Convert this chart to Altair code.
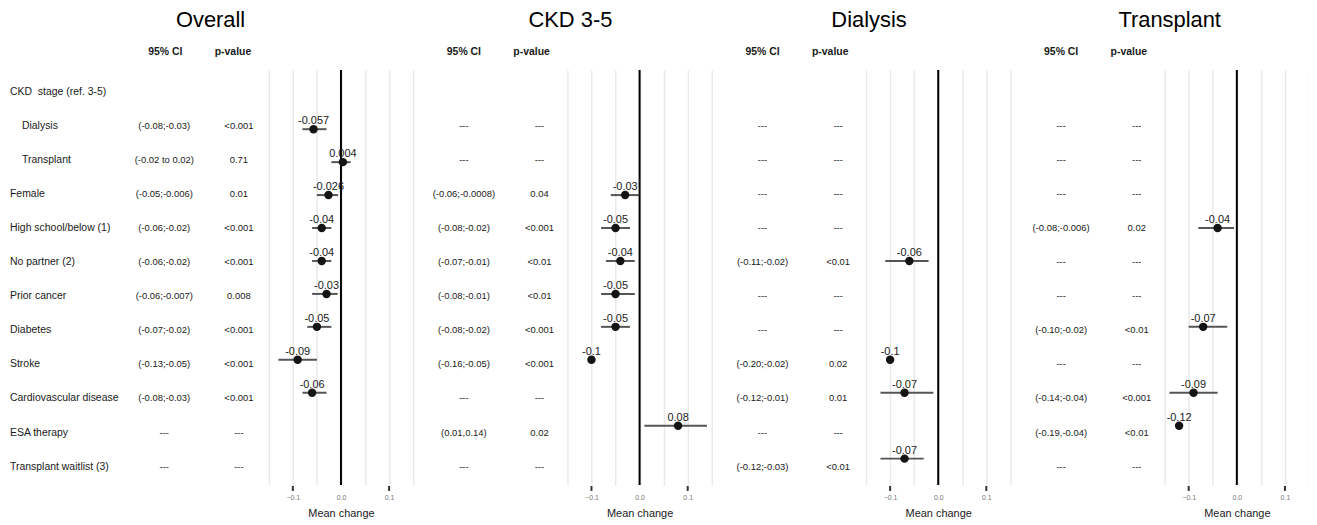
import altair as alt
import pandas as pd

# ---------------- data ----------------
rows = ["CKD stage", "Dialysis", "Transplant", "Female", "High school/below (1)",
        "No partner (2)", "Prior cancer", "Diabetes", "Stroke",
        "Cardiovascular disease", "ESA therapy", "Transplant waitlist (3)"]
row_labels = ["CKD\u00a0\u00a0stage (ref. 3-5)", "Dialysis", "Transplant",
              "Female", "High school/below (1)", "No partner (2)", "Prior cancer",
              "Diabetes", "Stroke", "Cardiovascular disease", "ESA therapy",
              "Transplant waitlist (3)"]
row_indent = [0, 1, 1, 0, 0, 0, 0, 0, 0, 0, 0, 0]

panel_titles = ["Overall", "CKD 3-5", "Dialysis", "Transplant"]

# estimates (None = not estimated)
overall_est = [None, -0.057, 0.004, -0.026, -0.04, -0.04, -0.03, -0.05, -0.09, -0.06, None, None]
overall_lo = [None, -0.08, -0.02, -0.05, -0.06, -0.06, -0.06, -0.07, -0.13, -0.08, None, None]
overall_hi = [None, -0.03, 0.02, -0.006, -0.02, -0.02, -0.007, -0.02, -0.05, -0.03, None, None]
overall_ci = ["", "(-0.08;-0.03)", "(-0.02 to 0.02)", "(-0.05;-0.006)", "(-0.06;-0.02)",
              "(-0.06;-0.02)", "(-0.06;-0.007)", "(-0.07;-0.02)", "(-0.13;-0.05)",
              "(-0.08;-0.03)", "---", "---"]
overall_p = ["", "<0.001", "0.71", "0.01", "<0.001", "<0.001", "0.008", "<0.001",
             "<0.001", "<0.001", "---", "---"]

ckd_est = [None, None, None, -0.03, -0.05, -0.04, -0.05, -0.05, -0.1, None, 0.08, None]
ckd_lo = [None, None, None, -0.06, -0.08, -0.07, -0.08, -0.08, -0.16, None, 0.01, None]
ckd_hi = [None, None, None, -0.0008, -0.02, -0.01, -0.01, -0.02, -0.05, None, 0.14, None]
ckd_ci = ["", "---", "---", "(-0.06;-0.0008)", "(-0.08;-0.02)", "(-0.07;-0.01)",
          "(-0.08;-0.01)", "(-0.08;-0.02)", "(-0.16;-0.05)", "---", "(0.01,0.14)", "---"]
ckd_p = ["", "---", "---", "0.04", "<0.001", "<0.01", "<0.01", "<0.001", "<0.001",
         "---", "0.02", "---"]

dia_est = [None, None, None, None, None, -0.06, None, None, -0.1, -0.07, None, -0.07]
dia_lo = [None, None, None, None, None, -0.11, None, None, -0.20, -0.12, None, -0.12]
dia_hi = [None, None, None, None, None, -0.02, None, None, -0.02, -0.01, None, -0.03]
dia_ci = ["", "---", "---", "---", "---", "(-0.11;-0.02)", "---", "---", "(-0.20;-0.02)",
          "(-0.12;-0.01)", "---", "(-0.12;-0.03)"]
dia_p = ["", "---", "---", "---", "---", "<0.01", "---", "---", "0.02", "0.01", "---", "<0.01"]

tx_est = [None, None, None, None, -0.04, None, None, -0.07, None, -0.09, -0.12, None]
tx_lo = [None, None, None, None, -0.08, None, None, -0.10, None, -0.14, -0.19, None]
tx_hi = [None, None, None, None, -0.006, None, None, -0.02, None, -0.04, -0.04, None]
tx_ci = ["", "---", "---", "---", "(-0.08;-0.006)", "---", "---", "(-0.10;-0.02)", "---",
         "(-0.14;-0.04)", "(-0.19,-0.04)", "---"]
tx_p = ["", "---", "---", "---", "0.02", "---", "---", "<0.01", "---", "<0.001", "<0.01", "---"]

x_grid = [-0.15, -0.1, -0.05, 0.0, 0.05, 0.1, 0.15]
x_ticks = [-0.1, 0.1]
x_limits = [-0.15, 0.15]

panels_data = [
    (overall_est, overall_lo, overall_hi, overall_ci, overall_p),
    (ckd_est, ckd_lo, ckd_hi, ckd_ci, ckd_p),
    (dia_est, dia_lo, dia_hi, dia_ci, dia_p),
    (tx_est, tx_lo, tx_hi, tx_ci, tx_p),
]

# ---------------- layout ----------------
FONT = "Liberation Sans"
H = 417
PLOT_W = 145
TABLE_W = [262, 155, 155, 155]
CI_X = [157, 51, 51, 51]
P_X = [232, 127, 127, 127]
CI_HX = [158, 51, 51, 51]
P_HX = [226, 119, 119, 119]
TITLE_DX = [0, 8, 8, 10]
TITLE_Y = -50
HEAD_Y = -18

yenc = alt.Y("row:N", sort=rows, scale=alt.Scale(domain=rows, padding=0.6), axis=None)

lbl_expr = ("abs(abs(datum.value) - 0.1) < 1e-9 || abs(datum.value) < 1e-9 ? "
            "format(datum.value, '.1f') : ''")


def make_panel(i):
    est, lo, hi, ci, p = panels_data[i]
    tdf = pd.DataFrame({"row": rows, "disp": row_labels, "ind": row_indent, "ci": ci, "p": p})

    layers = []
    if i == 0:
        for lvl, dx in [(0, 0), (1, 12)]:
            layers.append(alt.Chart(tdf).transform_filter(f"datum.ind == {lvl}")
                          .mark_text(align="left", baseline="middle", dy=2, dx=dx,
                                     fontSize=10.5, color="#1a1a1a", font=FONT)
                          .encode(x=alt.value(2), y=yenc, text="disp:N"))
    layers.append(alt.Chart(tdf).mark_text(align="center", baseline="middle", dy=2,
                                           fontSize=9.5, color="#1a1a1a", font=FONT)
                  .encode(x=alt.value(CI_X[i]), y=yenc, text="ci:N"))
    layers.append(alt.Chart(tdf).mark_text(align="center", baseline="middle", dy=2,
                                           fontSize=9.5, color="#1a1a1a", font=FONT)
                  .encode(x=alt.value(P_X[i]), y=yenc, text="p:N"))
    layers.append(alt.Chart(pd.DataFrame({"h": ["95% CI"]}))
                  .mark_text(align="center", baseline="middle", fontSize=10.5,
                             fontWeight="bold", color="#1a1a1a", font=FONT)
                  .encode(x=alt.value(CI_HX[i]), y=alt.value(HEAD_Y), text="h:N"))
    layers.append(alt.Chart(pd.DataFrame({"h": ["p-value"]}))
                  .mark_text(align="center", baseline="middle", fontSize=10.5,
                             fontWeight="bold", color="#1a1a1a", font=FONT)
                  .encode(x=alt.value(P_HX[i]), y=alt.value(HEAD_Y), text="h:N"))
    # panel title, centred over table + plot
    layers.append(alt.Chart(pd.DataFrame({"t": [panel_titles[i]]}))
                  .mark_text(align="center", baseline="middle", fontSize=22,
                             fontWeight="normal", color="#000000", font=FONT)
                  .encode(x=alt.value((TABLE_W[i] + PLOT_W) / 2 + TITLE_DX[i]),
                          y=alt.value(TITLE_Y), text="t:N"))
    table = alt.layer(*layers).properties(width=TABLE_W[i], height=H)

    pts = [(r, e, str(e)) for r, e in zip(rows, est) if e is not None]
    pdf = pd.DataFrame(pts, columns=["row", "est", "lbl"])
    # like ggplot's xlim(), intervals reaching outside the limits are dropped
    bars = [(r, a, b) for r, a, b in zip(rows, lo, hi)
            if a is not None and a >= x_limits[0] and b <= x_limits[1]]
    bdf = pd.DataFrame(bars, columns=["row", "lo", "hi"])

    xscale = alt.Scale(domain=x_limits, nice=False, zero=False)
    xaxis = alt.Axis(values=x_grid, labelExpr=lbl_expr, title="Mean change",
                     titleFontSize=11, titleFontWeight="normal", titleColor="#1a1a1a",
                     titleFont=FONT, labelFont=FONT, labelFontSize=7, labelColor="#7a7a7a",
                     ticks=False, tickSize=0,
                     domain=False, grid=True, gridColor="#e8e8e8", gridWidth=1.4,
                     labelPadding=9, titlePadding=7)

    zero = alt.Chart(pd.DataFrame({"z": [0.0]})).mark_rule(color="#000000", strokeWidth=2) \
        .encode(x=alt.X("z:Q", scale=xscale, axis=xaxis))
    ticks = alt.Chart(pd.DataFrame({"t": x_ticks})).mark_rule(color="#333333", strokeWidth=2) \
        .encode(x=alt.X("t:Q", scale=xscale, axis=xaxis),
                y=alt.value(H + 1), y2=alt.value(H + 6))
    err = alt.Chart(bdf).mark_rule(color="#555555", strokeWidth=2) \
        .encode(x=alt.X("lo:Q", scale=xscale, axis=xaxis), x2="hi:Q", y=yenc)
    dots = alt.Chart(pdf).mark_circle(size=72, color="#141414", opacity=1) \
        .encode(x=alt.X("est:Q", scale=xscale, axis=xaxis), y=yenc)
    labs = alt.Chart(pdf).mark_text(baseline="alphabetic", dy=-5, fontSize=11,
                                    color="#1a1a1a", font=FONT) \
        .encode(x=alt.X("est:Q", scale=xscale, axis=xaxis), y=yenc, text="lbl:N")
    plot = alt.layer(zero, ticks, err, dots, labs).properties(width=PLOT_W, height=H)

    return [table, plot]


charts = []
for i in range(4):
    charts.extend(make_panel(i))

chart = alt.hconcat(*charts, spacing=0, bounds="flush") \
    .properties(padding=0) \
    .configure(font=FONT) \
    .configure_view(stroke="transparent", strokeWidth=0)

chart.save("out.html", embed_options={"renderer": "svg", "actions": False})
